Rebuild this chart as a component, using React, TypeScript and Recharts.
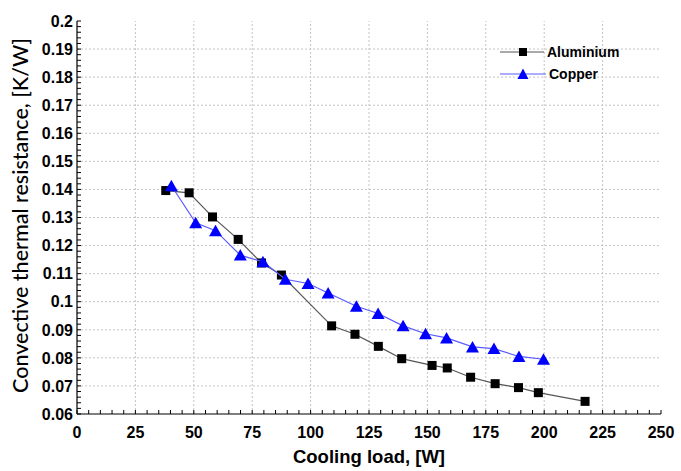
import React from 'react';
import { ScatterChart, Scatter, XAxis, YAxis, ReferenceLine, Legend } from 'recharts';

// Cooling load [W] and convective thermal resistance [K/W]
const aluminiumLoad = [38, 48, 58, 69, 79, 87.5, 109, 119, 129, 139, 152, 158.5, 168.5, 179, 189, 197.5, 217.5];
const aluminiumResistance = [0.1396, 0.1388, 0.1302, 0.1222, 0.1138, 0.1095, 0.0914, 0.0884, 0.0841, 0.0797, 0.0773, 0.0764, 0.0731, 0.0708, 0.0694, 0.0676, 0.0645];
const copperLoad = [40.4, 50.8, 59.3, 69.9, 79.6, 89.2, 98.9, 107.5, 119.6, 128.9, 139.6, 149.2, 158.2, 169.3, 178.5, 189.2, 199.7];
const copperResistance = [0.1413, 0.1281, 0.1253, 0.1166, 0.1142, 0.108, 0.1065, 0.1031, 0.0984, 0.0958, 0.0914, 0.0886, 0.0871, 0.0839, 0.0833, 0.0805, 0.0795];

const seriesNames = ['Aluminium', 'Copper'];

const xMajorTicks = [0, 25, 50, 75, 100, 125, 150, 175, 200, 225, 250];
const yMajorTicks = [0.06, 0.07, 0.08, 0.09, 0.1, 0.11, 0.12, 0.13, 0.14, 0.15, 0.16, 0.17, 0.18, 0.19, 0.2];
const xAllTicks = Array.from({ length: 51 }, (_, i) => i * 5);
const yAllTicks = Array.from({ length: 71 }, (_, i) => Math.round((0.06 + i * 0.002) * 1000) / 1000);

const aluminiumData = aluminiumLoad.map((x, i) => ({ x, y: aluminiumResistance[i] }));
const copperData = copperLoad.map((x, i) => ({ x, y: copperResistance[i] }));

const TICK_FONT = '"Liberation Sans", Arial, sans-serif';
const TICK_LEN = 4;
const isXMajor = (v: number) => v % 25 === 0;
const isYMajor = (v: number) => Math.round(v * 1000) % 10 === 0;
const fmtY = (v: number) => String(Number(v.toFixed(2)));

const BottomTick = (props: any) => {
  const { x, y, payload } = props;
  const v = payload.value;
  return (
    <g>
      <line x1={x} x2={x} y1={y} y2={y - TICK_LEN} stroke="#000" strokeWidth={1} />
      {isXMajor(v) && (
        <text x={x} y={y + 24} textAnchor="middle" fontFamily={TICK_FONT} fontWeight="bold" fontSize={16} fill="#000">
          {v}
        </text>
      )}
    </g>
  );
};

const LeftTick = (props: any) => {
  const { x, y, payload } = props;
  const v = payload.value;
  return (
    <g>
      <line x1={x} x2={x + TICK_LEN} y1={y} y2={y} stroke="#000" strokeWidth={1} />
      {isYMajor(v) && (
        <text x={x - 4} y={y} dy="0.36em" textAnchor="end" fontFamily={TICK_FONT} fontWeight="bold" fontSize={16} fill="#000">
          {fmtY(v)}
        </text>
      )}
    </g>
  );
};

const TopTick = (props: any) => {
  const { x, y } = props;
  return <line x1={x} x2={x} y1={y} y2={y + TICK_LEN} stroke="#000" strokeWidth={1} />;
};

const RightTick = (props: any) => {
  const { x, y } = props;
  return <line x1={x} x2={x - TICK_LEN} y1={y} y2={y} stroke="#000" strokeWidth={1} />;
};

const SquareShape = (props: any) => {
  const { cx, cy } = props;
  return <rect x={cx - 4.5} y={cy - 4.5} width={9} height={9} fill="#000" />;
};

const TriangleShape = (props: any) => {
  const { cx, cy } = props;
  return <polygon points={`${cx},${cy - 6} ${cx - 6.5},${cy + 5.5} ${cx + 6.5},${cy + 5.5}`} fill="#0000ff" />;
};

const LegendContent = () => (
  <div style={{ fontFamily: TICK_FONT, fontWeight: 'bold', fontSize: 14, color: '#000' }}>
    {seriesNames.map((name) => (
      <div key={name} style={{ display: 'flex', alignItems: 'center', height: 22 }}>
        <svg width={46} height={16} style={{ display: 'block' }}>
          {name === 'Aluminium' ? (
            <g>
              <line x1={0} x2={44} y1={8} y2={8} stroke="#555" strokeWidth={1.2} />
              <rect x={19} y={4} width={8} height={8} fill="#000" />
            </g>
          ) : (
            <g>
              <line x1={0} x2={46} y1={8} y2={8} stroke="#5a5aff" strokeWidth={1.2} />
              <polygon points="23,2.5 17.5,13 28.5,13" fill="#0000ff" />
            </g>
          )}
        </svg>
        <span style={{ marginLeft: name === 'Aluminium' ? 1 : 3 }}>{name}</span>
      </div>
    ))}
  </div>
);

const YLabel = (props: any) => {
  const { viewBox } = props;
  const cx = viewBox.x + 20;
  const cy = viewBox.y + viewBox.height / 2 - 2;
  return (
    <text x={cx} y={cy} transform={`rotate(-90, ${cx}, ${cy})`} textAnchor="middle" dominantBaseline="central"
      fontFamily="Lato, 'Open Sans', sans-serif" fontSize={21.5} fontWeight={500} fill="#000">
      Convective thermal resistance, [K/W]
    </text>
  );
};

const XLabel = (props: any) => {
  const { viewBox } = props;
  return (
    <text x={viewBox.x + viewBox.width / 2} y={viewBox.y + 49} textAnchor="middle"
      fontFamily={TICK_FONT} fontWeight="bold" fontSize={18.5} fill="#000">
      Cooling load, [W]
    </text>
  );
};

export default function App() {
  return (
    <div style={{ position: 'absolute', left: 0, top: 0, background: '#fff' }}>
      <ScatterChart width={681} height={471} margin={{ top: 21, right: 20, bottom: 0, left: 0 }}>
        <XAxis
          xAxisId={0}
          dataKey="x"
          type="number"
          domain={[0, 250]}
          ticks={xAllTicks}
          interval={0}
          allowDataOverflow
          height={57}
          tickSize={0}
          tickMargin={0}
          tickLine={false}
          tick={BottomTick}
          axisLine={{ stroke: '#000', strokeWidth: 1.2 }}
          label={XLabel}
        />
        <XAxis
          xAxisId="top"
          orientation="top"
          type="number"
          domain={[0, 250]}
          ticks={xAllTicks}
          interval={0}
          allowDataOverflow
          height={0}
          tickSize={0}
          tickMargin={0}
          tickLine={false}
          tick={TopTick}
          axisLine={{ stroke: '#000', strokeWidth: 1.2 }}
        />
        <YAxis
          yAxisId={0}
          dataKey="y"
          type="number"
          domain={[0.06, 0.2]}
          ticks={yAllTicks}
          interval={0}
          allowDataOverflow
          width={77}
          tickSize={0}
          tickMargin={0}
          tickLine={false}
          tick={LeftTick}
          axisLine={{ stroke: '#000', strokeWidth: 1.2 }}
          label={YLabel}
        />
        <YAxis
          yAxisId="right"
          orientation="right"
          type="number"
          domain={[0.06, 0.2]}
          ticks={yAllTicks}
          interval={0}
          allowDataOverflow
          width={0}
          tickSize={0}
          tickMargin={0}
          tickLine={false}
          tick={RightTick}
          axisLine={{ stroke: '#000', strokeWidth: 1.2 }}
        />
        {xMajorTicks.slice(1, -1).map((v) => (
          <ReferenceLine key={`gx${v}`} x={v} xAxisId={0} yAxisId={0} stroke="#c4c4c4" strokeDasharray="2 2" />
        ))}
        {yMajorTicks.slice(1, -1).map((v) => (
          <ReferenceLine key={`gy${v}`} y={v} xAxisId={0} yAxisId={0} stroke="#c4c4c4" strokeDasharray="2 2" />
        ))}
        <Legend
          layout="vertical"
          align="center"
          verticalAlign="middle"
          content={LegendContent}
          wrapperStyle={{ left: 500, top: 41, width: 'auto' }}
        />
        <Scatter
          name={seriesNames[0]}
          data={aluminiumData}
          xAxisId={0}
          yAxisId={0}
          fill="#000"
          line={{ stroke: '#555', strokeWidth: 1.2 }}
          shape={SquareShape}
          isAnimationActive={false}
        />
        <Scatter
          name={seriesNames[1]}
          data={copperData}
          xAxisId={0}
          yAxisId={0}
          fill="#0000ff"
          line={{ stroke: '#5a5aff', strokeWidth: 1.2 }}
          shape={TriangleShape}
          isAnimationActive={false}
        />
      </ScatterChart>
    </div>
  );
}
